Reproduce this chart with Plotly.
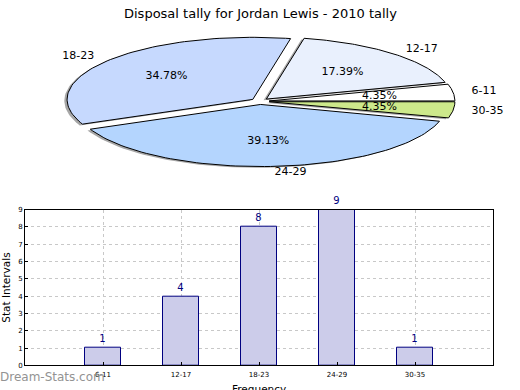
import numpy as np
import plotly.graph_objects as go

# ---- data ----
categories = ["6-11", "12-17", "18-23", "24-29", "30-35"]
counts = [1, 4, 8, 9, 1]
pie_colors = ["#ffffff", "#e9f0fd", "#c6d9fe", "#b4d5fe", "#cde98b"]
chart_title = "Disposal tally for Jordan Lewis - 2010 tally"
y_title = "Stat Intervals"
x_title = "Frequency"
watermark = "Dream-Stats.com"

W, H = 520, 390
fig = go.Figure()

# ---- pie (drawn as wedges on a stretched axis, like an elliptical pie) ----
total = float(sum(counts))
explode = 0.05
shadow_dx, shadow_dy = -0.015, -0.02
wedges = []
t0 = 0.0
for cat, c, col in zip(categories, counts, pie_colors):
    t1 = t0 + 360.0 * c / total
    tm = np.deg2rad((t0 + t1) / 2)
    cx, cy = explode * np.cos(tm), explode * np.sin(tm)
    th = np.deg2rad(np.linspace(t0, t1, 80))
    xs = np.concatenate([[cx], cx + np.cos(th), [cx]])
    ys = np.concatenate([[cy], cy + np.sin(th), [cy]])
    wedges.append((cat, c, col, tm, cx, cy, xs, ys))
    t0 = t1

for cat, c, col, tm, cx, cy, xs, ys in wedges:
    fig.add_trace(go.Scatter(x=xs + shadow_dx, y=ys + shadow_dy, fill="toself",
                             fillcolor="rgba(0,0,0,0.35)", line=dict(width=0),
                             mode="lines", xaxis="x2", yaxis="y2",
                             hoverinfo="skip", showlegend=False))
for cat, c, col, tm, cx, cy, xs, ys in wedges:
    fig.add_trace(go.Scatter(x=xs, y=ys, fill="toself", fillcolor=col,
                             line=dict(color="black", width=1),
                             mode="lines", xaxis="x2", yaxis="y2",
                             hoverinfo="skip", showlegend=False))

for cat, c, col, tm, cx, cy, xs, ys in wedges:
    lx, ly = cx + 1.1 * np.cos(tm), cy + 1.1 * np.sin(tm)
    fig.add_trace(go.Scatter(x=[lx], y=[ly], mode="text", text=[cat],
                             textposition="middle right" if lx > 0 else "middle left",
                             textfont=dict(family="DejaVu Sans", size=11, color="black"),
                             xaxis="x2", yaxis="y2", hoverinfo="skip", showlegend=False))
    px, py = cx + 0.6 * np.cos(tm), cy + 0.6 * np.sin(tm)
    fig.add_trace(go.Scatter(x=[px], y=[py], mode="text",
                             text=[f"{100 * c / total:.2f}%"],
                             textposition="middle center",
                             textfont=dict(family="DejaVu Sans", size=11, color="black"),
                             xaxis="x2", yaxis="y2", hoverinfo="skip", showlegend=False))

# ---- bar chart ----
fig.add_trace(go.Bar(x=categories, y=counts, width=0.47,
                     marker=dict(color="#ccccea", line=dict(color="#000080", width=1)),
                     text=[str(v) for v in counts], textposition="outside",
                     textfont=dict(family="DejaVu Sans", size=10, color="#000080"),
                     cliponaxis=False, hoverinfo="skip", showlegend=False))

# pie geometry: centre (260,99.4) px, radius 185.7 x 63.4 px
pcx, pcy, ra, rb = 260.0, 99.4, 185.7, 63.4
pie_top, pie_bot = 0.0, 195.0

bx0, bx1, by0, by1 = 25.0, 493.0, 210.0, 369.0

grid = dict(showgrid=True, gridcolor="#c8c8c8", griddash="dot", gridwidth=1)
fig.update_layout(
    width=W, height=H, margin=dict(l=0, r=0, t=0, b=0),
    paper_bgcolor="white", plot_bgcolor="white",
    font=dict(family="DejaVu Sans", color="black"),
    bargap=0,
    xaxis=dict(domain=[bx0 / W, bx1 / W], range=[-1, 5], type="category",
               showline=True, linecolor="black", linewidth=1, mirror=True,
               ticks="inside", ticklen=3, tickcolor="black", ticklabelstandoff=2,
               tickfont=dict(size=7, family="DejaVu Sans"), zeroline=False, **grid),
    yaxis=dict(domain=[1 - by1 / H, 1 - by0 / H], range=[0, 9], dtick=1,
               showline=True, linecolor="black", linewidth=1, mirror=True,
               ticks="inside", ticklen=3, tickcolor="black",
               tickfont=dict(size=7, family="DejaVu Sans"), zeroline=False,
               title=dict(text=y_title, font=dict(size=10.5), standoff=8), **grid),
    xaxis2=dict(domain=[0, 1], range=[-pcx / ra, (W - pcx) / ra], visible=False,
                anchor="y2", fixedrange=True),
    yaxis2=dict(domain=[1 - pie_bot / H, 1 - pie_top / H],
                range=[-(pie_bot - pcy) / rb, (pcy - pie_top) / rb], visible=False,
                anchor="x2", fixedrange=True),
    annotations=[
        dict(text=chart_title, x=0.5, y=1 - 10 / H, xref="paper", yref="paper",
             xanchor="center", yanchor="middle", showarrow=False,
             font=dict(size=13, family="DejaVu Sans", color="black")),
        dict(text=x_title, x=(259) / W, y=1 - 393 / H, xref="paper", yref="paper",
             xanchor="center", yanchor="middle", showarrow=False,
             font=dict(size=10.5, family="DejaVu Sans", color="black")),
        dict(text=watermark, x=-0.003, y=1 - 381 / H, xref="paper", yref="paper",
             xanchor="left", yanchor="middle", showarrow=False,
             font=dict(size=12, family="DejaVu Sans", color="#939393")),
    ],
)

fig.write_html("out.html", config={"displayModeBar": False},
               post_script="document.body.style.margin='0px';")
